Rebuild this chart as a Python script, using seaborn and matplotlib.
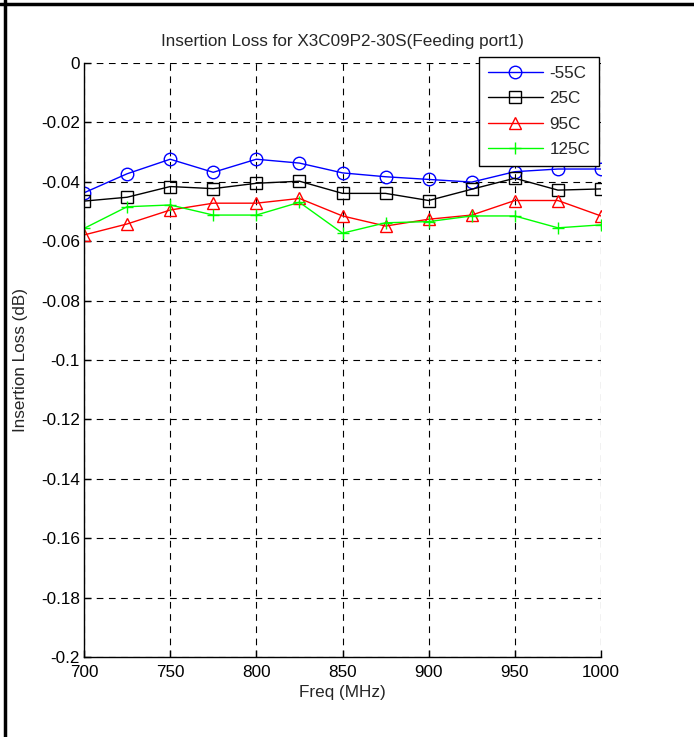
import matplotlib
matplotlib.use("Agg")
import matplotlib.pyplot as plt
import seaborn as sns
import pandas as pd
from matplotlib.lines import Line2D

freq = [700, 725, 750, 775, 800, 825, 850, 875, 900, 925, 950, 975, 1000]
loss_m55 = [-0.0437, -0.0373, -0.0324, -0.0368, -0.0324, -0.0337, -0.0370, -0.0383, -0.0392, -0.0401, -0.0366, -0.0357, -0.0357]
loss_25 = [-0.0465, -0.0452, -0.0416, -0.0423, -0.0405, -0.0398, -0.0439, -0.0439, -0.0463, -0.0425, -0.0388, -0.0428, -0.0424]
loss_95 = [-0.0579, -0.0542, -0.0495, -0.0472, -0.0472, -0.0456, -0.0515, -0.0549, -0.0526, -0.0512, -0.0463, -0.0463, -0.0515]
loss_125 = [-0.0557, -0.0484, -0.0478, -0.0512, -0.0512, -0.0469, -0.0573, -0.0538, -0.0534, -0.0515, -0.0515, -0.0555, -0.0545]
labels = ["-55C", "25C", "95C", "125C"]
colors = ["#0000ff", "#000000", "#ff0000", "#00ff00"]
markers = ["o", "s", "^", "+"]
xticks = [700, 750, 800, 850, 900, 950, 1000]
yticks = [0, -0.02, -0.04, -0.06, -0.08, -0.1, -0.12, -0.14, -0.16, -0.18, -0.2]
ytick_labels = ["0", "-0.02", "-0.04", "-0.06", "-0.08", "-0.1", "-0.12", "-0.14", "-0.16", "-0.18", "-0.2"]

sns.set_style("white")
plt.rcParams["font.family"] = ["Liberation Sans", "DejaVu Sans"]
FS = 12.3
plt.rcParams["font.size"] = FS

fig = plt.figure(figsize=(6.94, 7.37), dpi=100)
ax = fig.add_axes([84/694, 80/737, 517/694, 594/737])

series = [loss_m55, loss_25, loss_95, loss_125]
for vals, lab, c, m in zip(series, labels, colors, markers):
    df = pd.DataFrame({"Freq": freq, "Loss": vals})
    ms = 9 if m != "s" else 8
    sns.lineplot(data=df, x="Freq", y="Loss", ax=ax, color=c, marker=m,
                 markersize=ms, markerfacecolor="none", markeredgecolor=c,
                 markeredgewidth=1.0, linewidth=1.0, label=lab)

ax.set_xlim(700, 1000)
ax.set_ylim(-0.2, 0)
ax.set_xticks(xticks)
ax.set_xticklabels([str(x) for x in xticks])
ax.set_yticks(yticks)
ax.set_yticklabels(ytick_labels)
ax.grid(True, color="black", linestyle=(0, (6, 5)), linewidth=0.8)
ax.set_axisbelow(True)
for s in ["top", "right"]:
    ax.spines[s].set_visible(False)
for s in ["left", "bottom"]:
    ax.spines[s].set_color("black")
    ax.spines[s].set_linewidth(1.0)
ax.tick_params(direction="in", length=5, width=1, colors="black", labelsize=FS,
               left=True, bottom=True)
ax.tick_params(axis="y", pad=3)
ax.tick_params(axis="x", pad=6)
ax.set_xlabel("Freq (MHz)", fontsize=FS, labelpad=3)
ax.set_ylabel("Insertion Loss (dB)", fontsize=FS, labelpad=9)
ax.set_title("Insertion Loss for X3C09P2-30S(Feeding port1)", fontsize=FS, pad=12)

handles = [Line2D([0], [0], color=c, marker=m, markersize=9 if m != "s" else 8,
                  markerfacecolor="none", markeredgecolor=c, linewidth=1.0)
           for c, m in zip(colors, markers)]
leg = ax.legend(handles, labels, loc="upper right", bbox_to_anchor=(0.996, 1.01),
                borderaxespad=0.0,
                frameon=True, fancybox=False, edgecolor="black", fontsize=FS,
                handlelength=3.2, borderpad=0.5, labelspacing=0.62, handletextpad=0.4)
leg.get_frame().set_linewidth(1.0)
leg.get_frame().set_alpha(1)

# outer document frame lines (top and left)
fig.add_artist(Line2D([0, 1], [1 - 4/737, 1 - 4/737], transform=fig.transFigure, color="black", linewidth=2.5))
fig.add_artist(Line2D([5/694, 5/694], [0, 1], transform=fig.transFigure, color="black", linewidth=2.5))

fig.savefig("out.png", dpi=100)
